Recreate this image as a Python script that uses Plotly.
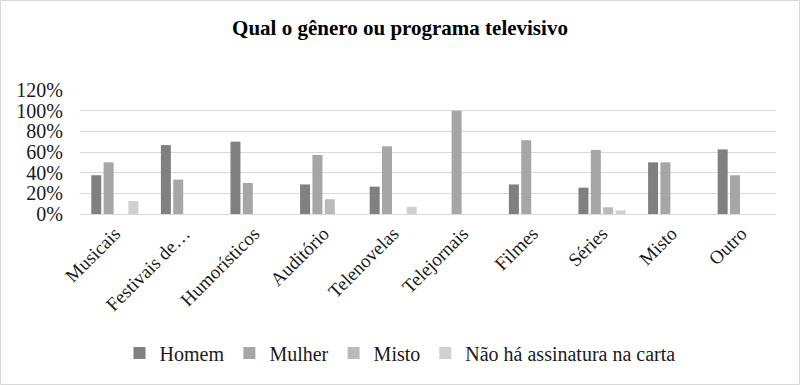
import plotly.graph_objects as go

categories = ["Musicais", "Festivais de…", "Humorísticos", "Auditório", "Telenovelas",
              "Telejornais", "Filmes", "Séries", "Misto", "Outro"]
homem = [37.5, 66.7, 70.0, 28.6, 26.5, 0, 28.6, 25.5, 50.0, 62.5]
mulher = [50.0, 33.3, 30.0, 57.1, 65.5, 100.0, 71.4, 62.0, 50.0, 37.5]
misto = [0, 0, 0, 14.3, 0, 0, 0, 6.5, 0, 0]
nao_ha = [12.5, 0, 0, 0, 7.0, 0, 0, 3.5, 0, 0]
series_names = ["Homem", "Mulher", "Misto", "Não há assinatura na carta"]
series_values = [homem, mulher, misto, nao_ha]
series_colors = ["#808080", "#a6a6a6", "#bababa", "#d0d0d0"]
y_ticks = [0, 20, 40, 60, 80, 100, 120]

FONT = "Liberation Serif, Times New Roman, serif"
TXT = "#1a1a1a"

fig = go.Figure()
for name, vals, col in zip(series_names, series_values, series_colors):
    fig.add_trace(go.Bar(
        x=categories, y=vals, name=name,
        marker=dict(color=col, line=dict(width=0)),
    ))

W, H = 800, 385
L, R, T, B = 80, 24, 90, 171
pw, ph = W - L - R, H - T - B

fig.update_layout(
    width=W, height=H,
    margin=dict(l=L, r=R, t=T, b=B),
    paper_bgcolor="white", plot_bgcolor="white",
    barmode="group", bargap=0.29, bargroupgap=0.19,
    hovermode=False,
    title=dict(text="<b>Qual o gênero ou programa televisivo</b>",
               x=0.5, xanchor="center", y=1 - 28 / H, yanchor="middle",
               font=dict(family=FONT, size=21, color="#000000")),
    font=dict(family=FONT, size=20, color=TXT),
    xaxis=dict(tickangle=-45, showgrid=False, showline=True, linecolor="#d9d9d9",
               linewidth=1, ticks="", automargin=False,
               tickfont=dict(family=FONT, size=19, color=TXT)),
    yaxis=dict(range=[0, 120], tickvals=y_ticks,
               ticktext=[f"{v}%" for v in y_ticks],
               showgrid=True, gridcolor="#d9d9d9", gridwidth=1,
               zeroline=False, showline=False, ticks="", automargin=False,
               ticklabelstandoff=16,
               tickfont=dict(family=FONT, size=20, color=TXT)),
    legend=dict(orientation="h", x=(400 - L) / pw, xanchor="center",
                y=-(353 - (T + ph)) / ph, yanchor="middle",
                font=dict(family=FONT, size=20, color=TXT),
                itemwidth=30, tracegroupgap=0),
    showlegend=True,
)

# outer chart border
fig.add_shape(type="rect", xref="paper", yref="paper",
              x0=-L / pw + 0.5 / pw, x1=1 + R / pw - 0.5 / pw,
              y0=-B / ph + 0.5 / ph, y1=1 + T / ph - 0.5 / ph,
              line=dict(color="#d9d9d9", width=1), fillcolor="rgba(0,0,0,0)",
              layer="below")

fig.write_html("out.html",
               config={"staticPlot": True, "displayModeBar": False},
               post_script="document.body.style.margin='0';document.body.style.overflow='hidden';")
